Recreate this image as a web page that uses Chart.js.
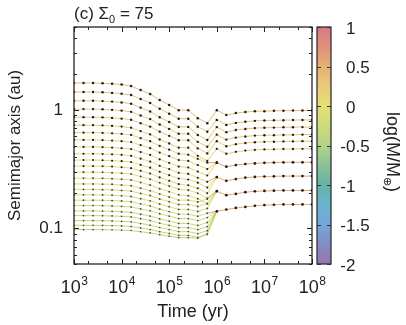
<!DOCTYPE html>
<html>
<head>
<meta charset="utf-8">
<script src="https://cdn.jsdelivr.net/npm/chart.js@4.4.1/dist/chart.umd.min.js"></script>
<style>
  html, body { margin: 0; padding: 0; background: #fff; }
  #wrap { width: 406px; height: 325px; }
</style>
</head>
<body>
<div id="wrap"><canvas id="chart"></canvas></div>
<script>
// font used everywhere (Helvetica-like)
const FONT = "'Liberation Sans', Arial, sans-serif";

// time samples (yr), 0.2 dex apart
const times = [1e3, 1585, 2512, 3981, 6310, 1e4, 15849, 25119, 39811, 63096,
  1e5, 158489, 251189, 398107, 630957, 1e6, 1584893, 2511886, 3981072, 6309573,
  1e7, 15848932, 25118864, 39810717, 63095734, 1e8];

// semimajor axis (au) of each planet; short arrays = merged into another body
const line01 = [1.684,1.684,1.684,1.674,1.661,1.635,1.588,1.468,1.359,1.209,1.096,0.994,0.994,0.850,0.771,0.994,0.903,0.938,0.957,0.975,0.975,0.980,0.983,0.985,0.987,0.987];
const line02 = [1.413,1.413,1.413,1.405,1.390,1.369,1.335,1.235,1.142,1.020,0.928,0.842,0.842,0.721,0.654,0.822,0.746,0.776,0.794,0.807,0.812,0.815,0.818,0.820,0.822,0.822];
const line03 = [1.192,1.192,1.192,1.185,1.173,1.155,1.126,1.044,0.968,0.865,0.790,0.718,0.718,0.614,0.557,0.715,0.648,0.675,0.690,0.701,0.706,0.708,0.712,0.713,0.715,0.715];
const line04 = [1.014,1.014,1.014,1.010,1.000,0.985,0.962,0.895,0.835,0.751,0.690,0.629,0.629,0.537,0.488,0.618,0.561,0.583,0.596,0.606,0.610,0.611,0.614,0.615,0.618,0.618];
const line05 = [0.867,0.867,0.867,0.864,0.855,0.844,0.825,0.772,0.722,0.654,0.603,0.554,0.554,0.473,0.429,0.544,0.493,0.513,0.525,0.533,0.537,0.538,0.541,0.542,0.544,0.544];
const line06 = [0.742,0.742,0.742,0.739,0.732,0.722,0.706,0.661,0.620,0.562,0.520,0.479,0.479,0.409,0.371,0.469,0.426,0.442,0.453,0.460,0.463,0.464,0.467,0.467,0.469,0.469];
const line07 = [0.642,0.642,0.642,0.639,0.634,0.626,0.614,0.577,0.543,0.496,0.461,0.426,0.418,0.386,0.358,0.358,0.331,0.342,0.349,0.353,0.357,0.359,0.360,0.361,0.361,0.361];
const line08 = [0.557,0.557,0.557,0.555,0.550,0.544,0.534,0.504,0.475,0.436,0.406,0.377,0.370,0.342,0.316,0.358];
const line09 = [0.486,0.486,0.486,0.484,0.480,0.475,0.467,0.440,0.416,0.382,0.357,0.332,0.326,0.301,0.279,0.358];
const line10 = [0.426,0.426,0.426,0.424,0.421,0.417,0.409,0.387,0.366,0.337,0.316,0.294,0.288,0.267,0.247,0.2705,0.2517,0.2602,0.2679,0.2716,0.2738,0.2748,0.2759,0.2759,0.2759,0.2759];
const line11 = [0.377,0.377,0.377,0.375,0.372,0.369,0.363,0.343,0.325,0.300,0.281,0.263,0.258,0.243,0.221,0.2705];
const line12 = [0.335,0.335,0.335,0.334,0.332,0.328,0.322,0.306,0.290,0.269,0.252,0.236,0.231,0.218,0.198,0.2705];
const line13 = [0.298,0.298,0.298,0.297,0.295,0.292,0.287,0.274,0.260,0.242,0.228,0.214,0.210,0.198,0.179,0.2059,0.1905,0.1953,0.2019,0.2051,0.2067,0.2079,0.2087,0.2087,0.2087,0.2087];
const line14 = [0.265,0.265,0.265,0.264,0.262,0.260,0.256,0.244,0.232,0.216,0.204,0.192,0.188,0.178,0.161,0.2059];
const line15 = [0.237,0.237,0.237,0.236,0.235,0.232,0.229,0.218,0.208,0.195,0.184,0.173,0.173,0.167,0.177,0.2059];
const line16 = [0.213,0.213,0.213,0.212,0.211,0.209,0.206,0.197,0.189,0.177,0.168,0.159,0.159,0.153,0.162,0.2059];
const line17 = [0.1915,0.1915,0.1915,0.1911,0.1900,0.1882,0.1856,0.1779,0.1706,0.1603,0.1524,0.1444,0.1444,0.1388,0.1471,0.2059];
const line18 = [0.1727,0.1727,0.1727,0.1724,0.1713,0.1700,0.1677,0.1610,0.1546,0.1454,0.1385,0.1314,0.1314,0.1264,0.1340,0.1393,0.1441,0.1486,0.1515,0.1551,0.1570,0.1582,0.1591,0.1591,0.1591,0.1591];
const line19 = [0.1557,0.1557,0.1557,0.1554,0.1545,0.1532,0.1515,0.1457,0.1404,0.1327,0.1269,0.1208,0.1208,0.1162,0.1232,0.1393];
const line20 = [0.1402,0.1402,0.1402,0.1399,0.1391,0.1380,0.1364,0.1315,0.1269,0.1201,0.1151,0.1099,0.1099,0.1057,0.1120,0.1393];
const line21 = [0.1281,0.1281,0.1281,0.1278,0.1271,0.1263,0.1249,0.1205,0.1164,0.1104,0.1061,0.1013,0.1013,0.0975,0.1034,0.1393];
const line22 = [0.1162,0.1162,0.1162,0.1160,0.1155,0.1146,0.1135,0.1098,0.1064,0.1016,0.0977,0.0938,0.0938,0.0902,0.0956,0.1393];
const line23 = [0.1060,0.1060,0.1060,0.1058,0.1054,0.1047,0.1038,0.1008,0.0978,0.0937,0.0905,0.0872,0.0872,0.0838,0.0889,0.1393];
const line24 = [0.0975,0.0975,0.0975,0.0973,0.0971,0.0965,0.0958,0.0936,0.0915,0.0884,0.0859,0.0834,0.0834,0.0826,0.0902,0.1393];

const allLines = [line01, line02, line03, line04, line05, line06, line07, line08,
  line09, line10, line11, line12, line13, line14, line15, line16, line17, line18,
  line19, line20, line21, line22, line23, line24];

// log10 of planet mass (earth masses): at start, and after its mergers (survivors only)
const logMassStart = [0.35, 0.32, 0.29, 0.26, 0.23, 0.20, 0.17, 0.14, 0.10, 0.07, 0.04, 0.01,
  -0.03, -0.06, -0.09, -0.12, -0.15, -0.18, -0.21, -0.24, -0.27, -0.30, -0.33, -0.36];
const logMassEnd = [null, null, null, null, null, null, 0.55, null, null, 0.50, null, null,
  0.55, null, null, null, null, 0.50, null, null, null, null, null, null];
const mergeTime = 630957;

// axis ticks
const xTicks = [1e3, 1e4, 1e5, 1e6, 1e7, 1e8];
const yTicks = [0.1, 1];
const cbTicks = [1, 0.5, 0, -0.5, -1, -1.5, -2];

// colour bar palette, from log M = -2 up to 1
const cmap = [
  [-2.0, '#8a5c9e'], [-1.75, '#6c78bc'], [-1.5, '#5c98d2'], [-1.25, '#4ea8c4'],
  [-1.0, '#4aa49a'], [-0.75, '#76b884'], [-0.5, '#a6ca74'], [-0.25, '#c6d662'],
  [0.0, '#e2da5c'], [0.25, '#e6c262'], [0.5, '#e2a25e'], [0.75, '#dc7e64'], [1.0, '#d2606e']
];

function hexRgb(h) {
  return [parseInt(h.slice(1, 3), 16), parseInt(h.slice(3, 5), 16), parseInt(h.slice(5, 7), 16)];
}
function massColor(v, alpha) {
  v = Math.max(-2, Math.min(1, v));
  for (let i = 0; i < cmap.length - 1; i++) {
    const [v0, c0] = cmap[i], [v1, c1] = cmap[i + 1];
    if (v <= v1) {
      const f = (v - v0) / (v1 - v0);
      const a = hexRgb(c0), b = hexRgb(c1);
      const c = a.map((x, j) => Math.round(x + (b[j] - x) * f));
      return `rgba(${c[0]},${c[1]},${c[2]},${alpha})`;
    }
  }
}

const datasets = allLines.map((vals, i) => {
  const m0 = logMassStart[i], m1 = logMassEnd[i];
  const massAt = x => (m1 !== null && x > mergeTime) ? m1 : m0;
  return {
    data: times.map((t, k) => ({ x: t, y: vals[k] ?? null })),
    borderColor: massColor(m0, 0.9),
    borderWidth: 1,
    tension: 0,
    spanGaps: false,
    pointRadius: c => 0.8 + 0.6 * (massAt(c.parsed.x) + 0.4),
    pointBackgroundColor: c => massAt(c.parsed.x) > 0 ? '#1e1e1e' : '#4a4a4a',
    pointBorderWidth: 0,
    segment: {
      borderColor: c => massColor(massAt(c.p1.parsed.x), 0.9)
    }
  };
});

// frame, inward ticks, exponent labels, title and colour bar
const decor = {
  id: 'decor',
  afterDatasetsDraw(chart) {
    const { ctx, chartArea: a, scales: { x, y } } = chart;
    ctx.save();
    ctx.strokeStyle = '#222';
    ctx.lineWidth = 1;
    const tick = (x1, y1, x2, y2) => { ctx.beginPath(); ctx.moveTo(x1, y1); ctx.lineTo(x2, y2); ctx.stroke(); };
    // x ticks
    for (let d = 3; d <= 8; d++) {
      [1, 2, 5].forEach(m => {
        const v = m * Math.pow(10, d);
        if (v > 1e8) return;
        const px = Math.round(x.getPixelForValue(v)) + 0.5;
        const len = m === 1 ? 5 : 3;
        tick(px, a.bottom, px, a.bottom - len);
        tick(px, a.top, px, a.top + len);
      });
    }
    // y ticks
    for (let d = -2; d <= 0; d++) {
      for (let m = 1; m <= 9; m++) {
        const v = m * Math.pow(10, d);
        if (v < 0.05 || v > 5.0001) continue;
        const py = Math.round(y.getPixelForValue(v)) + 0.5;
        const len = m === 1 ? 5 : 3;
        tick(a.left, py, a.left + len, py);
        tick(a.right, py, a.right - len, py);
      }
    }
    ctx.lineWidth = 1.3;
    ctx.strokeRect(a.left, a.top, a.right - a.left, a.bottom - a.top);

    // x tick labels 10^n
    ctx.fillStyle = '#222';
    ctx.textBaseline = 'alphabetic';
    xTicks.forEach(v => {
      const px = x.getPixelForValue(v);
      const exp = String(Math.round(Math.log10(v)));
      ctx.font = '18px ' + FONT;
      const wb = ctx.measureText('10').width;
      ctx.font = '12px ' + FONT;
      const we = ctx.measureText(exp).width;
      const x0 = px - (wb + we) / 2;
      ctx.font = '18px ' + FONT;
      ctx.textAlign = 'left';
      ctx.fillText('10', x0, 293);
      ctx.font = '12px ' + FONT;
      ctx.fillText(exp, x0 + wb + 0.5, 285);
    });

    // panel title
    ctx.font = '17px ' + FONT;
    ctx.textAlign = 'left';
    let tx = a.left;
    ctx.fillText('(c) Σ', tx, 19);
    tx += ctx.measureText('(c) Σ').width;
    ctx.font = '11px ' + FONT;
    ctx.fillText('0', tx, 23);
    tx += ctx.measureText('0').width;
    ctx.font = '17px ' + FONT;
    ctx.fillText(' = 75', tx, 19);

    // colour bar
    const cbL = 317, cbR = 331, cbT = a.top, cbB = a.bottom;
    const vy = v => cbB - (v + 2) / 3 * (cbB - cbT);
    const grad = ctx.createLinearGradient(0, cbB, 0, cbT);
    cmap.forEach(([v, c]) => grad.addColorStop((v + 2) / 3, c));
    ctx.globalAlpha = 0.85;
    ctx.fillStyle = grad;
    ctx.fillRect(cbL, cbT, cbR - cbL, cbB - cbT);
    ctx.globalAlpha = 1;
    ctx.lineWidth = 1.3;
    ctx.strokeStyle = '#333';
    ctx.strokeRect(cbL, cbT, cbR - cbL, cbB - cbT);
    ctx.lineWidth = 1;
    ctx.fillStyle = '#222';
    ctx.font = '17px ' + FONT;
    ctx.textBaseline = 'middle';
    cbTicks.forEach(v => {
      const py = Math.round(vy(v)) + 0.5;
      tick(cbL, py, cbL + 4, py);
      tick(cbR, py, cbR - 4, py);
      const s = String(Math.abs(v));
      ctx.textAlign = 'left';
      ctx.fillText(s, 346, vy(v) + 2);
      if (v < 0) {
        ctx.textAlign = 'right';
        ctx.fillText('-', 346, vy(v) + 2);
      }
    });

    // colour bar label, rotated
    ctx.save();
    ctx.translate(392, 152);
    ctx.rotate(Math.PI / 2);
    ctx.textBaseline = 'middle';
    ctx.font = '18px ' + FONT;
    const main = 'log(M/M';
    const wm = ctx.measureText(main).width;
    ctx.font = '11px ' + FONT;
    const ws = ctx.measureText('⊕').width;
    ctx.font = '18px ' + FONT;
    const wc = ctx.measureText(')').width;
    let sx = -(wm + ws + wc) / 2;
    ctx.textAlign = 'left';
    ctx.fillText(main, sx, 0);
    sx += wm;
    ctx.font = '11px ' + FONT;
    ctx.fillText('⊕', sx, 5);
    sx += ws;
    ctx.font = '18px ' + FONT;
    ctx.fillText(')', sx, 0);
    ctx.restore();
    ctx.restore();
  }
};

new Chart(document.getElementById('chart'), {
  type: 'line',
  data: { datasets },
  options: {
    responsive: true,
    maintainAspectRatio: false,
    animation: false,
    events: [],
    layout: { padding: { left: 0, right: 94, top: 27, bottom: 0 } },
    plugins: { legend: { display: false }, tooltip: { enabled: false } },
    scales: {
      x: {
        type: 'logarithmic',
        min: 1e3, max: 1e8,
        grid: { display: false, drawTicks: false },
        border: { display: false },
        afterBuildTicks: s => { s.ticks = xTicks.map(v => ({ value: v })); },
        afterFit: s => { s.height = 61; },
        ticks: { display: false },
        title: { display: true, text: 'Time (yr)', color: '#222', font: { family: FONT, size: 18 }, padding: { top: 0, bottom: 2 } }
      },
      y: {
        type: 'logarithmic',
        min: 0.05, max: 5,
        grid: { display: false, drawTicks: false },
        border: { display: false },
        afterBuildTicks: s => { s.ticks = yTicks.map(v => ({ value: v })); },
        afterFit: s => { s.width = 74; },
        ticks: { color: '#222', font: { family: FONT, size: 17 }, padding: 11, callback: v => String(v) },
        title: { display: true, text: 'Semimajor axis (au)', color: '#222', font: { family: FONT, size: 17 }, padding: { top: 5, bottom: 0 } }
      }
    }
  },
  plugins: [decor]
});
</script>
</body>
</html>
